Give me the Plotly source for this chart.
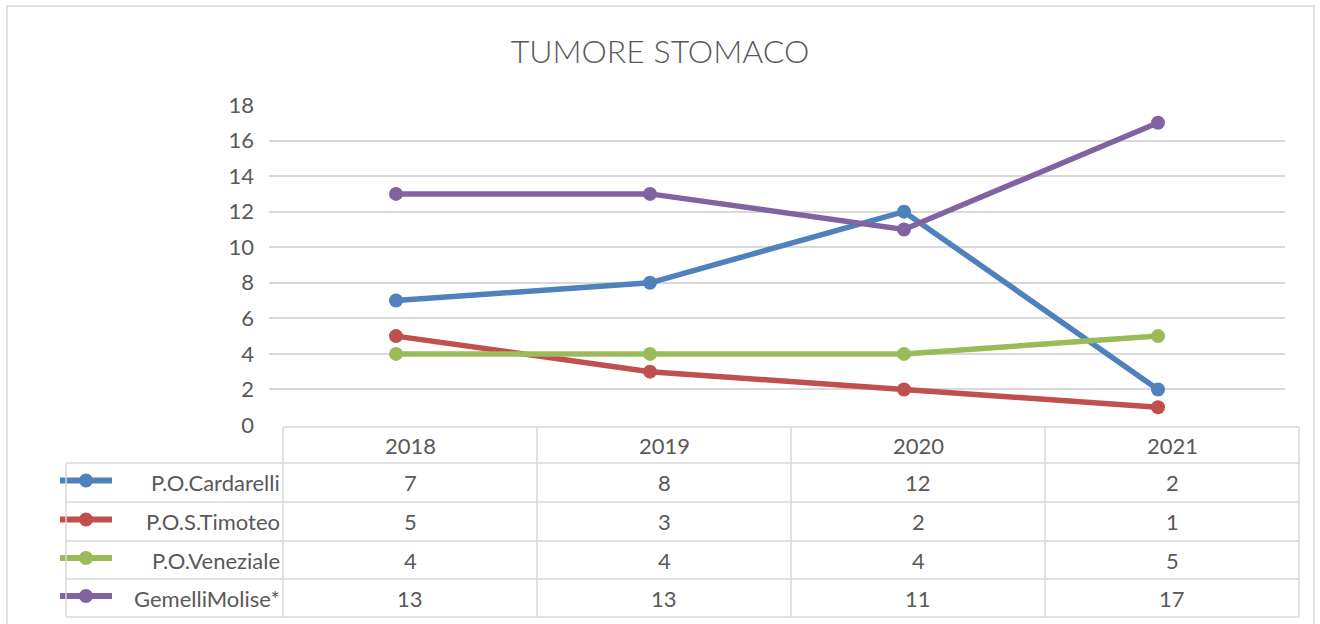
import plotly.graph_objects as go

# ---- data ----
title = "TUMORE STOMACO"
years = ["2018", "2019", "2020", "2021"]
series_names = ["P.O.Cardarelli", "P.O.S.Timoteo", "P.O.Veneziale", "GemelliMolise*"]
cardarelli = [7, 8, 12, 2]
timoteo = [5, 3, 2, 1]
veneziale = [4, 4, 4, 5]
gemelli = [13, 13, 11, 17]
series_values = [cardarelli, timoteo, veneziale, gemelli]
colors = ["#4F81BD", "#C0504D", "#9BBB59", "#8064A2"]
y_ticks = [0, 2, 4, 6, 8, 10, 12, 14, 16, 18]

# ---- layout constants (pixels) ----
W, H = 1320, 624
FONT = "Lato"
FS = 22
TXT = "#595959"
GRID = "#d9d9d9"
plot_x0, plot_x1 = 269, 1285
plot_y0, plot_y1 = 105, 425  # top (18), bottom (0)
tab_x0, tab_x1 = 283, 1299
label_x0 = 66
row_edges = [427, 463, 502, 541, 579, 617]


def px(x):
    return x / W


def py(y):
    return 1 - y / H


fig = go.Figure()
for name, vals, col in zip(series_names, series_values, colors):
    fig.add_trace(go.Scatter(
        x=list(range(len(years))), y=vals, name=name, mode="lines+markers",
        line=dict(color=col, width=5.5), marker=dict(color=col, size=14),
        cliponaxis=False, showlegend=False, hoverinfo="y+name"))

shapes = []
annotations = []

# outer border
shapes.append(dict(type="rect", xref="paper", yref="paper", x0=px(7), x1=px(1314),
                   y0=py(630), y1=py(6), line=dict(color=GRID, width=1.5), layer="below"))

ncol = len(years)
colw = (tab_x1 - tab_x0) / ncol
line_style = dict(color=GRID, width=1.5)

# legend keys (drawn first, table grid on top)
for r, col in enumerate(colors):
    yc = (row_edges[r + 1] + row_edges[r + 2]) / 2
    ky = yc - 2
    shapes.append(dict(type="line", xref="paper", yref="paper", x0=px(60), x1=px(112),
                       y0=py(ky), y1=py(ky), line=dict(color=col, width=6)))
    shapes.append(dict(type="circle", xref="paper", yref="paper", x0=px(79), x1=px(93),
                       y0=py(ky + 7), y1=py(ky - 7), fillcolor=col, line=dict(color=col, width=0)))

# table grid
for i, y in enumerate(row_edges):
    x_start = tab_x0 if i == 0 else label_x0
    shapes.append(dict(type="line", xref="paper", yref="paper", x0=px(x_start), x1=px(tab_x1),
                       y0=py(y), y1=py(y), line=line_style))
for c in range(ncol + 1):
    x = tab_x0 + c * colw
    shapes.append(dict(type="line", xref="paper", yref="paper", x0=px(x), x1=px(x),
                       y0=py(row_edges[0]), y1=py(row_edges[-1]), line=line_style))
shapes.append(dict(type="line", xref="paper", yref="paper", x0=px(label_x0), x1=px(label_x0),
                   y0=py(row_edges[1]), y1=py(row_edges[-1]), line=line_style))

# header years
for c, yr in enumerate(years):
    annotations.append(dict(xref="paper", yref="paper", x=px(tab_x0 + (c + 0.5) * colw),
                            y=py((row_edges[0] + row_edges[1]) / 2), text=yr, showarrow=False,
                            font=dict(family=FONT, size=FS, color=TXT), xanchor="center", yanchor="middle"))

# rows
for r, (name, vals) in enumerate(zip(series_names, series_values)):
    yc = (row_edges[r + 1] + row_edges[r + 2]) / 2
    annotations.append(dict(xref="paper", yref="paper", x=px(282), y=py(yc), text=name,
                            showarrow=False, font=dict(family=FONT, size=FS, color=TXT),
                            xanchor="right", yanchor="middle"))
    for c, v in enumerate(vals):
        annotations.append(dict(xref="paper", yref="paper", x=px(tab_x0 + (c + 0.5) * colw),
                                y=py(yc), text=str(v), showarrow=False,
                                font=dict(family=FONT, size=FS, color=TXT),
                                xanchor="center", yanchor="middle"))

fig.update_layout(
    width=W, height=H, margin=dict(l=0, r=0, t=0, b=0, autoexpand=False),
    autosize=False,
    paper_bgcolor="white", plot_bgcolor="white",
    title=dict(text=title, x=0.5, xanchor="center", y=py(52), yanchor="middle",
               font=dict(family=FONT, size=32, color=TXT, weight=300)),
    xaxis=dict(domain=[px(plot_x0), px(plot_x1)], range=[-0.5, len(years) - 0.5],
               showgrid=False, zeroline=False, showticklabels=False, showline=False, fixedrange=True),
    yaxis=dict(domain=[py(plot_y1), py(plot_y0)], range=[0, 18], tickvals=y_ticks,
               showgrid=True, gridcolor=GRID, gridwidth=1.5, zeroline=True, zerolinecolor="white",
               showline=False, ticks="", ticklabelstandoff=14, automargin=False,
               tickfont=dict(family=FONT, size=FS, color=TXT), fixedrange=True),
    shapes=shapes, annotations=annotations, showlegend=False,
)

fig.write_html(
    "out.html",
    config={"responsive": False, "displayModeBar": False},
    post_script="document.body.style.margin='0';document.body.style.padding='0';document.body.style.overflow='hidden';",
)
